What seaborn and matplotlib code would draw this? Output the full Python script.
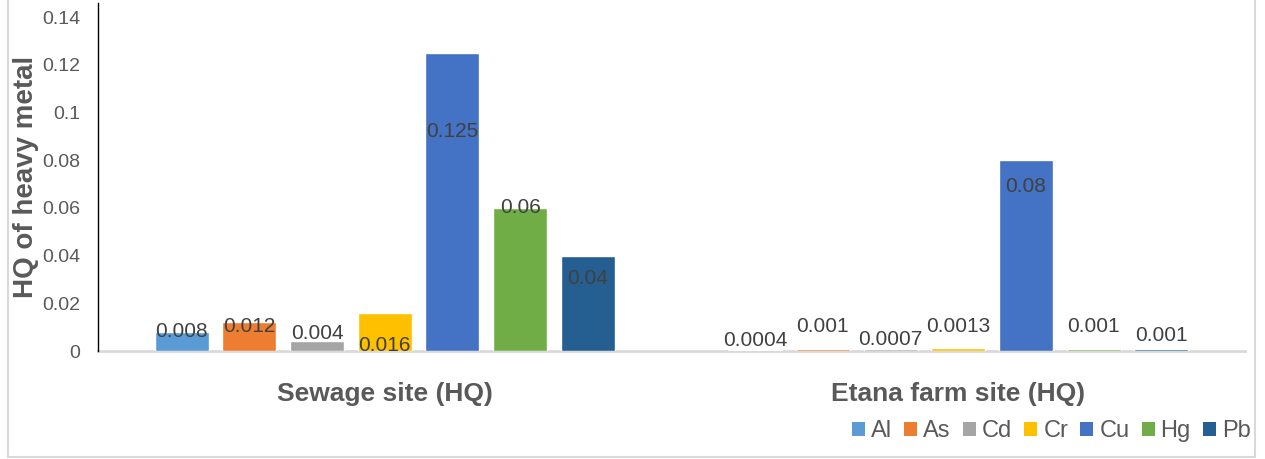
import matplotlib
matplotlib.use("Agg")
import matplotlib.pyplot as plt
import seaborn as sns
import pandas as pd
from matplotlib.lines import Line2D
from matplotlib.patches import Patch

# Hazard quotient of heavy metals at the two sites
sites = ["Sewage site (HQ)", "Etana farm site (HQ)"]
metals = ["Al", "As", "Cd", "Cr", "Cu", "Hg", "Pb"]
sewage_hq = [0.008, 0.012, 0.004, 0.016, 0.125, 0.06, 0.04]
etana_hq = [0.0004, 0.001, 0.0007, 0.0013, 0.08, 0.001, 0.001]
sewage_text = ["0.008", "0.012", "0.004", "0.016", "0.125", "0.06", "0.04"]
etana_text = ["0.0004", "0.001", "0.0007", "0.0013", "0.08", "0.001", "0.001"]
y_ticks = [0, 0.02, 0.04, 0.06, 0.08, 0.1, 0.12, 0.14]
y_tick_labels = ["0", "0.02", "0.04", "0.06", "0.08", "0.1", "0.12", "0.14"]

colors = ["#5B9BD5", "#ED7D31", "#A5A5A5", "#FFC000", "#4472C4", "#70AD47", "#255E91"]

# vertical anchor of each value label (data units)
sewage_label_y = [0.0080, 0.0101, 0.0075, 0.0025, 0.0922, 0.0604, 0.0306]
etana_label_y = [0.0042, 0.0101, 0.0050, 0.0101, 0.0692, 0.0101, 0.0063]

df = pd.DataFrame({
    "site": [sites[0]] * len(metals) + [sites[1]] * len(metals),
    "metal": metals * 2,
    "hq": sewage_hq + etana_hq,
})

sns.set_theme(style="white")
plt.rcParams["font.family"] = ["Liberation Sans", "DejaVu Sans"]

fig = plt.figure(figsize=(12.65, 4.59), dpi=100)
ax = fig.add_axes([98 / 1265, 1 - 351 / 459, (1245 - 98) / 1265, (351 - 3) / 459])

sns.barplot(data=df, x="site", y="hq", hue="metal", order=sites, hue_order=metals,
            palette=colors, width=0.826, gap=0.2, saturation=1, errorbar=None,
            legend=False, ax=ax, zorder=3)

ax.set_ylim(0, 0.146)
ax.set_yticks(y_ticks)
ax.set_yticklabels(y_tick_labels)
ax.tick_params(axis="y", length=0, pad=13, labelsize=14, labelcolor="#595959")
ax.tick_params(axis="x", length=0, pad=22, labelsize=19, labelcolor="#595959")
for lab in ax.get_xticklabels():
    lab.set_fontweight("bold")
ax.set_xlabel("")
ax.set_ylabel("HQ of heavy metal", fontsize=20, fontweight="bold", color="#595959", labelpad=2)

for s in ["top", "right"]:
    ax.spines[s].set_visible(False)
ax.spines["left"].set_color("black")
ax.spines["left"].set_linewidth(1.0)
ax.spines["bottom"].set_color("#D9D9D9")
ax.spines["bottom"].set_linewidth(2.0)
ax.spines["bottom"].set_zorder(1)

# value labels
texts = [sewage_text, etana_text]
label_y = [sewage_label_y, etana_label_y]
for h, container in enumerate(ax.containers):
    for s, bar in enumerate(container):
        cx = bar.get_x() + bar.get_width() / 2
        ax.text(cx, label_y[s][h], texts[s][h], ha="center", va="center",
                fontsize=15, color="#404040", zorder=4)

# legend
handles = [Patch(facecolor=c, edgecolor="none") for c in colors]
fig.legend(handles, metals, loc="center left", bbox_to_anchor=(852 / 1265, 1 - 431 / 459),
           ncol=7, frameon=False, fontsize=17, labelcolor="#595959",
           handlelength=0.55, handleheight=0.55, handletextpad=0.25, columnspacing=0.52,
           borderaxespad=0, borderpad=0)

# chart border
fig.add_artist(Line2D([8 / 1265, 8 / 1265], [2 / 459, 1], transform=fig.transFigure,
                      color="#D9D9D9", lw=1.5))
fig.add_artist(Line2D([8 / 1265, 1255 / 1265], [2 / 459, 2 / 459], transform=fig.transFigure,
                      color="#D9D9D9", lw=1.5))
fig.add_artist(Line2D([1255 / 1265, 1255 / 1265], [2 / 459, 1], transform=fig.transFigure,
                      color="#D9D9D9", lw=1.5))

fig.savefig("out.png", dpi=100)
